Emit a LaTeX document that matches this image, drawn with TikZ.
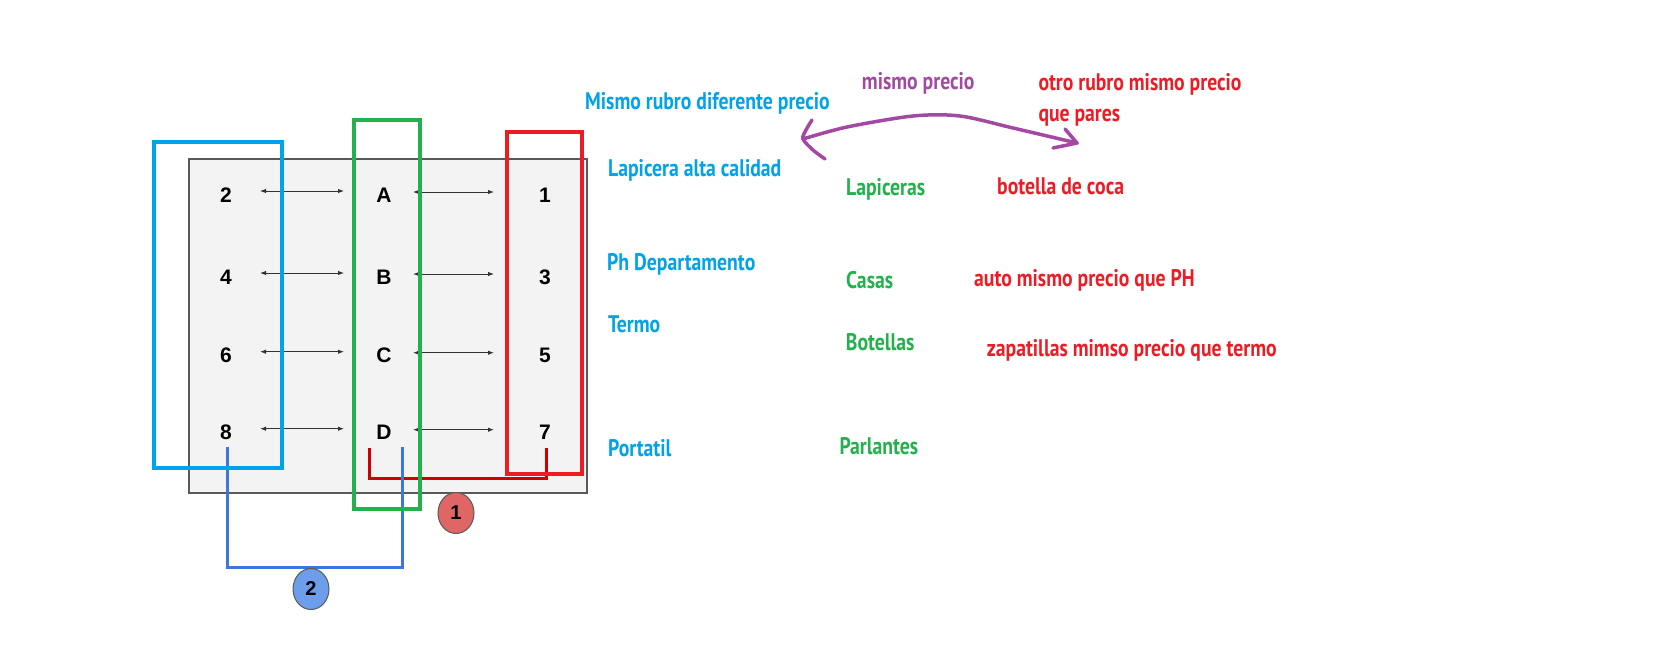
\documentclass[tikz,border=0pt]{standalone}
\usepackage{fontspec}
\setmainfont{Liberation Sans}
\newfontfamily\paintfont[FakeStretch=0.82]{PT Sans}
\usetikzlibrary{arrows.meta,shapes.geometric}

\definecolor{paintblue}{RGB}{0,162,232}
\definecolor{paintgreen}{RGB}{34,177,76}
\definecolor{paintred}{RGB}{237,28,36}
\definecolor{paintpurple}{RGB}{163,73,164}
\definecolor{linkblue}{RGB}{60,120,216}
\definecolor{linkred}{RGB}{204,0,0}
\definecolor{dotblue}{RGB}{109,158,235}
\definecolor{dotred}{RGB}{224,102,102}
\definecolor{boxfill}{RGB}{243,243,243}
\definecolor{boxgray}{RGB}{89,89,89}
\definecolor{arrowgray}{RGB}{50,50,50}

\begin{document}
\begin{tikzpicture}[
    x=1pt, y=-1pt,
    >=Stealth,
    celda/.style={font=\bfseries\fontsize{21}{24}\selectfont, inner sep=0}, % letras y numeros
    flecha/.style={draw=arrowgray, line width=1pt, {Latex[length=6pt,width=4.5pt]}-{Latex[length=6pt,width=4.5pt]}},
    nota/.style={font=\paintfont\bfseries\fontsize{24}{28}\selectfont, anchor=base west, inner sep=0},
    marco/.style={line width=4pt},
    enlace/.style={line width=3pt},
    punto/.style={ellipse, draw=boxgray, line width=1pt, minimum width=36pt, minimum height=41pt, inner sep=0, font=\bfseries\fontsize{20}{22}\selectfont}
]
\useasboundingbox (0,0) rectangle (1664,664);

% ========== cuadro gris ==========
\draw[draw=boxgray, fill=boxfill, line width=1.2pt] (189,159) rectangle (587,493);

% filas: numero izquierdo, letra, numero derecho
\foreach \r/\y/\a/\b/\c in {1/195/2/A/1, 2/277/4/B/3, 3/355.7/6/C/5, 4/432.7/8/D/7} {
    \node[celda] (L\r) at (226,\y) {\a};
    \node[celda] (M\r) at (384,\y) {\b};
    \node[celda] (R\r) at (545,\y) {\c};
    \draw[flecha] ([xshift=34pt,yshift=4pt]L\r.center) -- ([xshift=-40pt,yshift=4pt]M\r.center);
    \draw[flecha] ([xshift=29pt,yshift=3pt]M\r.center) -- ([xshift=-51pt,yshift=3pt]R\r.center);
}

% ========== enlaces 1 y 2 ==========
\draw[enlace, linkred] ([xshift=-15pt,yshift=-15pt]M4.center) |- ([xshift=1pt,yshift=-46pt]R4.center) -- ([xshift=1pt,yshift=-15pt]R4.center);
\draw[enlace, linkblue] ([xshift=1pt,yshift=-14pt]L4.center) |- ([xshift=18pt,yshift=-135pt]M4.center) -- ([xshift=18pt,yshift=-14pt]M4.center);

\node[punto, fill=dotred] (uno) at (456,513) {1};
\node[punto, fill=dotblue] (dos) at (311,589) {2};

% ========== marcos de color ==========
\draw[marco, paintblue] (154,142) rectangle (282,468);
\draw[marco, paintgreen] (354,120) rectangle (420,509);
\draw[marco, paintred] (507,132) rectangle (582,474);

% ========== textos ==========
\node[nota, paintblue] (rubro) at (585,109) {Mismo rubro diferente precio};
\node[nota, paintblue] (lapicera) at (608,176) {Lapicera alta calidad};
\node[nota, paintblue] (ph) at (607,270) {Ph Departamento};
\node[nota, paintblue] (termo) at (608,332.5) {Termo};
\node[nota, paintblue] (portatil) at (608,456) {Portatil};

\node[nota, paintgreen] (lapiceras) at (846,195) {Lapiceras};
\node[nota, paintgreen] (casas) at (846,288.3) {Casas};
\node[nota, paintgreen] (botellas) at (845.7,350) {Botellas};
\node[nota, paintgreen] (parlantes) at (839.3,454) {Parlantes};

\node[nota, paintpurple] (mismo) at (861.7,89.3) {mismo precio};
\node[nota, paintred] (otro) at (1038.3,90.7) {otro rubro mismo precio};
\node[nota, paintred] (pares) at (1038.3,121) {que pares};
\node[nota, paintred] (coca) at (997,194) {botella de coca};
\node[nota, paintred] (auto) at (974,286) {auto mismo precio que PH};
\node[nota, paintred] (zapatillas) at (986.7,356.7) {zapatillas mimso precio que termo};

% ========== flecha violeta a mano ==========
\draw[paintpurple, line width=3.5pt, line cap=round, line join=round]
    plot[smooth] coordinates {(803,139) (847,127) (913,116) (960,116) (1013,128) (1077,143)};
\draw[paintpurple, line width=3.5pt, line cap=round, line join=round]
    plot[smooth] coordinates {(812,120) (806,130) (803,139) (813,150) (825,159)};
\draw[paintpurple, line width=3.5pt, line cap=round, line join=round]
    (1065,129) -- (1077,143) -- (1053,148);

\end{tikzpicture}
\end{document}
